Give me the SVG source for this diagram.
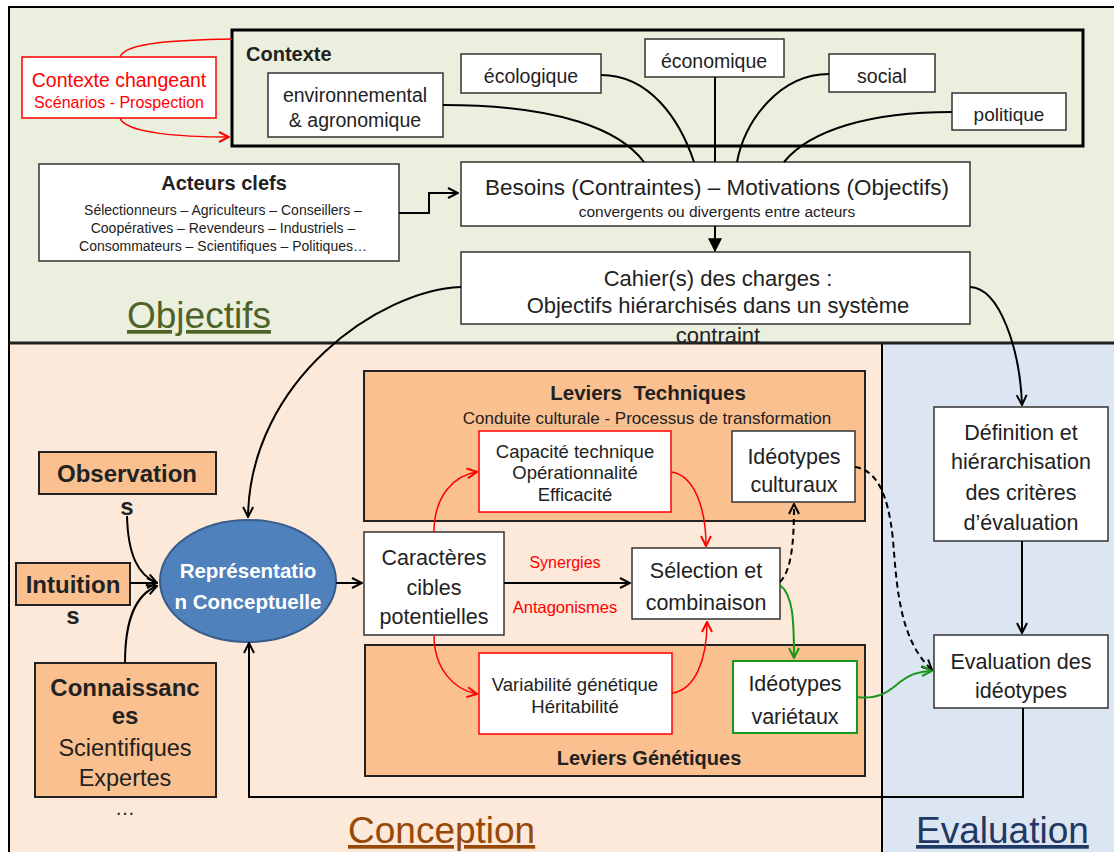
<svg xmlns="http://www.w3.org/2000/svg" width="1114" height="852" viewBox="0 0 1114 852">
<style>
text{font-family:"Liberation Sans",Arial,sans-serif;fill:#222;}
.c{text-anchor:middle;}
.b{font-weight:bold;}
.box{fill:#fff;stroke:#333;stroke-width:1.5;}
.rbox{fill:#fff;stroke:#f00;stroke-width:1.5;}
.gbox{fill:#fff;stroke:#1a961a;stroke-width:2;}
.obox{fill:#FAC090;stroke:#222;stroke-width:2;}
.ln{fill:none;stroke:#000;stroke-width:2;}
.rl{fill:none;stroke:#f00;stroke-width:1.5;}
.gl{fill:none;stroke:#1a961a;stroke-width:2;}
.dl{fill:none;stroke:#000;stroke-width:2;stroke-dasharray:6 4;}
.pre{white-space:pre;}
</style>
<defs>
<marker id="ab" viewBox="0 0 12 12" refX="11" refY="6" markerWidth="12" markerHeight="12" orient="auto" markerUnits="userSpaceOnUse"><path d="M1,1 L11,6 L1,11" fill="none" stroke="#000" stroke-width="2"/></marker>
<marker id="ar" viewBox="0 0 12 12" refX="11" refY="6" markerWidth="12" markerHeight="12" orient="auto" markerUnits="userSpaceOnUse"><path d="M1,1 L11,6 L1,11" fill="none" stroke="#f00" stroke-width="2"/></marker>
<marker id="ag" viewBox="0 0 12 12" refX="11" refY="6" markerWidth="12" markerHeight="12" orient="auto" markerUnits="userSpaceOnUse"><path d="M1,1 L11,6 L1,11" fill="none" stroke="#1a961a" stroke-width="2"/></marker>
<marker id="af" viewBox="0 0 12 12" refX="11" refY="6" markerWidth="14" markerHeight="14" orient="auto" markerUnits="userSpaceOnUse"><path d="M0,0 L12,6 L0,12 Z" fill="#000"/></marker>
</defs>

<g id="panels">
<rect x="9" y="7" width="1110" height="336" fill="#EBF0DE" stroke="#000" stroke-width="2"/>
<rect x="9" y="343" width="873" height="515" fill="#FDE9D9" stroke="#000" stroke-width="2"/>
<rect x="882" y="343" width="240" height="515" fill="#DCE6F2" stroke="#000" stroke-width="2"/>
<line x1="9" y1="343" x2="1114" y2="343" stroke="#222" stroke-width="3"/>
<text x="127" y="328" font-size="37" style="fill:#4F6228" text-decoration="underline">Objectifs</text>
<text x="348" y="843" font-size="37" style="fill:#984807" text-decoration="underline">Conception</text>
<text x="916" y="843" font-size="37" style="fill:#1F3864" text-decoration="underline">Evaluation</text>
</g>

<g id="contexte">
<rect x="232" y="30" width="851" height="116" fill="none" stroke="#000" stroke-width="3"/>
<text x="246" y="61" font-size="20" class="b">Contexte</text>
</g>

<g id="contexte-changeant">
<rect x="22" y="57" width="194" height="61" fill="#fff" stroke="#f00" stroke-width="1.5"/>
<text x="119" y="87" font-size="19.5" class="c" style="fill:#f00">Contexte changeant</text>
<text x="119" y="108" font-size="16" class="c" style="fill:#f00">Scénarios - Prospection</text>
</g>

<g id="environnemental">
<rect class="box" x="268" y="73" width="175" height="64"/>
<text x="355" y="102" font-size="19.5" class="c">environnemental</text>
<text x="355" y="127" font-size="19.5" class="c">&amp; agronomique</text>
</g>
<g id="ecologique">
<rect class="box" x="461" y="54" width="140" height="39"/>
<text x="531" y="83" font-size="19.5" class="c">écologique</text>
</g>
<g id="economique">
<rect class="box" x="645" y="39" width="139" height="38"/>
<text x="714" y="68" font-size="19.5" class="c">économique</text>
</g>
<g id="social">
<rect class="box" x="829" y="54" width="106" height="38"/>
<text x="882" y="83" font-size="19.5" class="c">social</text>
</g>
<g id="politique">
<rect class="box" x="952" y="93" width="114" height="37"/>
<text x="1009" y="121" font-size="19" class="c">politique</text>
</g>

<g id="acteurs">
<rect class="box" x="39" y="164" width="360" height="97"/>
<text x="224" y="190" font-size="20" class="c b">Acteurs clefs</text>
<text x="223" y="215" font-size="14" class="c">Sélectionneurs – Agriculteurs – Conseillers –</text>
<text x="223" y="233" font-size="14" class="c">Coopératives – Revendeurs – Industriels –</text>
<text x="223" y="251" font-size="14" class="c">Consommateurs – Scientifiques – Politiques…</text>
</g>

<g id="besoins">
<rect class="box" x="461" y="162" width="509" height="64"/>
<text x="717" y="195" font-size="22.5" class="c">Besoins (Contraintes) – Motivations (Objectifs)</text>
<text x="717" y="217" font-size="15.5" class="c">convergents ou divergents entre acteurs</text>
</g>

<g id="cahier">
<rect class="box" x="461" y="252" width="509" height="72"/>
<text x="718" y="286" font-size="22" class="c">Cahier(s) des charges :</text>
<text x="718" y="313" font-size="22" class="c">Objectifs hiérarchisés dans un système</text>
<text x="718" y="343" font-size="22" class="c">contraint</text>
</g>

<g id="observation">
<rect class="obox" x="39" y="452" width="177" height="42"/>
<text x="127" y="482" font-size="24" class="c b">Observation</text>
<text x="127" y="515" font-size="24" class="c b">s</text>
</g>
<g id="intuition">
<rect class="obox" x="16" y="563" width="114" height="42"/>
<text x="73" y="593" font-size="24" class="c b">Intuition</text>
<text x="73" y="624" font-size="24" class="c b">s</text>
</g>
<g id="connaissances">
<rect class="obox" x="35" y="663" width="181" height="134"/>
<text x="125" y="696" font-size="24" class="c b">Connaissanc</text>
<text x="125" y="724" font-size="24" class="c b">es</text>
<text x="125" y="756" font-size="23.5" class="c">Scientifiques</text>
<text x="125" y="786" font-size="23.5" class="c">Expertes</text>
<text x="125" y="815" font-size="20" class="c">…</text>
</g>

<g id="representation">
<ellipse cx="248" cy="581" rx="88" ry="61" fill="#4F81BD" stroke="#385D8A" stroke-width="2"/>
<text x="248" y="578" font-size="20.5" class="c b" style="fill:#fff">Représentatio</text>
<text x="248" y="609" font-size="20.5" class="c b" style="fill:#fff">n Conceptuelle</text>
</g>

<g id="leviers-techniques">
<rect class="obox" x="364" y="371" width="501" height="150"/>
<text x="648" y="400" font-size="20.5" class="c b pre">Leviers  Techniques</text>
<text x="647" y="424" font-size="17" class="c">Conduite culturale - Processus de transformation</text>
</g>
<g id="capacite">
<rect class="rbox" x="479" y="431" width="192" height="81"/>
<text x="575" y="458" font-size="18.5" class="c">Capacité technique</text>
<text x="575" y="479" font-size="18.5" class="c">Opérationnalité</text>
<text x="575" y="501" font-size="18.5" class="c">Efficacité</text>
</g>
<g id="ideotypes-culturaux">
<rect class="box" x="732" y="431" width="123" height="71"/>
<text x="794" y="464" font-size="21.5" class="c">Idéotypes</text>
<text x="794" y="492" font-size="21.5" class="c">culturaux</text>
</g>

<g id="caracteres">
<rect class="box" x="364" y="532" width="140" height="103"/>
<text x="434" y="565" font-size="21.5" class="c">Caractères</text>
<text x="434" y="595" font-size="21.5" class="c">cibles</text>
<text x="434" y="624" font-size="21.5" class="c">potentielles</text>
</g>
<g id="labels-syn">
<text x="565" y="568" font-size="16" class="c" style="fill:#f00">Synergies</text>
<text x="565" y="613" font-size="16.5" class="c" style="fill:#f00">Antagonismes</text>
</g>
<g id="selection">
<rect class="box" x="632" y="548" width="148" height="71"/>
<text x="706" y="578" font-size="21.5" class="c">Sélection et</text>
<text x="706" y="610" font-size="21.5" class="c">combinaison</text>
</g>

<g id="leviers-genetiques">
<rect class="obox" x="365" y="645" width="500" height="131"/>
<text x="649" y="765" font-size="20" class="c b">Leviers Génétiques</text>
</g>
<g id="variabilite">
<rect class="rbox" x="479" y="653" width="193" height="81"/>
<text x="575" y="691" font-size="18.5" class="c">Variabilité génétique</text>
<text x="575" y="713" font-size="18.5" class="c">Héritabilité</text>
</g>
<g id="ideotypes-varietaux">
<rect class="gbox" x="733" y="661" width="124" height="72"/>
<text x="795" y="691" font-size="21.5" class="c">Idéotypes</text>
<text x="795" y="724" font-size="21.5" class="c">variétaux</text>
</g>

<g id="definition">
<rect class="box" x="934" y="407" width="174" height="134"/>
<text x="1021" y="440" font-size="21.5" class="c">Définition et</text>
<text x="1021" y="469" font-size="21.5" class="c">hiérarchisation</text>
<text x="1021" y="500" font-size="21.5" class="c">des critères</text>
<text x="1021" y="530" font-size="21.5" class="c">d’évaluation</text>
</g>
<g id="evaluation-ideotypes">
<rect class="box" x="934" y="635" width="174" height="73"/>
<text x="1021" y="669" font-size="21.5" class="c">Evaluation des</text>
<text x="1021" y="698" font-size="21.5" class="c">idéotypes</text>
</g>

<g id="connectors">
<path class="rl" d="M120,57 C125,42 180,40 232,39"/>
<path class="rl" d="M120,118 C125,133 180,137 229,137" marker-end="url(#ar)"/>
<path class="ln" d="M443,105 C560,105 620,130 644,162"/>
<path class="ln" d="M601,75 C650,75 680,120 694,162"/>
<path class="ln" d="M715,77 V162"/>
<path class="ln" d="M829,74 C780,74 745,120 737,162"/>
<path class="ln" d="M952,112 C870,112 810,130 784,162"/>
<path class="ln" d="M399,213 H429 V193 H458" marker-end="url(#ab)"/>
<path class="ln" d="M715,226 V251" stroke-width="3" marker-end="url(#af)"/>
<path class="ln" d="M461,287 C380,290 250,380 248,517" marker-end="url(#ab)"/>
<path class="ln" d="M970,287 C1000,288 1020,350 1022,405" marker-end="url(#ab)"/>
<path class="ln" d="M127,516 C128,555 138,575 157,583" marker-end="url(#ab)"/>
<path class="ln" d="M130,583 H157" marker-end="url(#ab)"/>
<path class="ln" d="M125,663 C125,620 135,595 157,586" marker-end="url(#ab)"/>
<path class="ln" d="M336,583 H362" marker-end="url(#ab)"/>
<path class="ln" d="M504,583 H630" marker-end="url(#ab)"/>
<path class="ln" d="M1023,708 V797 H249 V643" marker-end="url(#ab)"/>
<path class="ln" d="M1022,541 V633" marker-end="url(#ab)"/>
<path class="rl" d="M434,532 C434,495 455,475 477,472" marker-end="url(#ar)"/>
<path class="rl" d="M671,472 C695,475 706,510 706,546" marker-end="url(#ar)"/>
<path class="rl" d="M434,635 C434,670 455,690 477,694" marker-end="url(#ar)"/>
<path class="rl" d="M672,693 C695,690 707,660 707,622" marker-end="url(#ar)"/>
<path class="dl" d="M780,582 C792,570 794,540 794,504" marker-end="url(#ab)"/>
<path class="dl" d="M855,467 C875,470 888,490 893,540 C897,590 900,640 932,670" marker-end="url(#ab)"/>
<path class="gl" d="M780,585 C793,595 794,620 794,658" marker-end="url(#ag)"/>
<path class="gl" d="M857,697 C880,700 890,690 900,682 C910,674 920,671 932,671" marker-end="url(#ag)"/>
</g>
</svg>
